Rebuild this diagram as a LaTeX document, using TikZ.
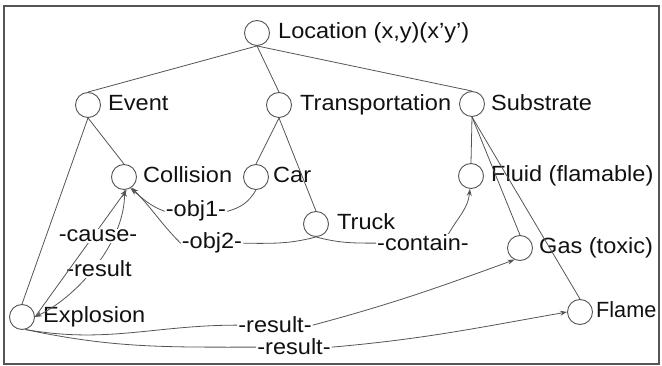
\documentclass[tikz,border=0pt]{standalone}
\usepackage{fontspec}
\setmainfont{Liberation Sans}[FakeStretch=1.07]
\usetikzlibrary{arrows.meta}
\definecolor{ln}{HTML}{555555}
\definecolor{tx}{HTML}{111111}
\begin{document}
\begin{tikzpicture}[x=1pt,y=1pt,
  dot/.style={circle,draw=ln,line width=0.9pt,minimum size=25pt,inner sep=0pt},
  lbl/.style={anchor=base west,inner sep=0pt,text=tx,font=\fontsize{22}{26}\selectfont},
  elbl/.style={anchor=base,inner sep=1pt,fill=white,text=tx,font=\fontsize{22}{26}\selectfont},
  tree/.style={draw=ln,line width=0.8pt},
  rel/.style={draw=ln,line width=0.8pt},
  tip/.style={-{Stealth[length=7pt,width=5pt]}},
  bitip/.style={{Stealth[length=7pt,width=5pt]}-{Stealth[length=7pt,width=5pt]}},
]
\useasboundingbox (0,0) rectangle (662,-366);
\draw[ln,line width=1.2pt] (4,-6) rectangle (659,-364);

% circles
\node[dot] (loc)   at (257,-33) {};
\node[dot] (event) at (88,-105) {};
\node[dot] (trans) at (279,-105) {};
\node[dot] (subs)  at (472,-104) {};
\node[dot] (coll)  at (124,-177) {};
\node[dot] (car)   at (256,-177) {};
\node[dot] (truck) at (316,-224) {};
\node[dot] (fluid) at (471,-176) {};
\node[dot] (gas)   at (520,-248) {};
\node[dot] (flame) at (580,-312) {};
\node[dot] (expl)  at (22,-317) {};

% texts
\node[lbl] (t-loc)   at (278,-39)  {Location (x,y)(x'y')};
\node[lbl] (t-event) at (108,-111) {Event};
\node[lbl] (t-trans) at (300,-111) {Transportation};
\node[lbl] (t-subs)  at (491,-111) {Substrate};
\node[lbl] (t-coll)  at (143,-183) {Collision};
\node[lbl] (t-car)   at (273,-183) {Car};
\node[lbl] (t-truck) at (337,-230) {Truck};
\node[lbl] (t-fluid) at (491,-182) {Fluid (flamable)};
\node[lbl] (t-gas)   at (539,-254) {Gas (toxic)};
\node[lbl,xscale=0.92] (t-flame) at (596,-318) {Flame};
\node[lbl] (t-expl)  at (43,-323)  {Explosion};

% tree edges
\draw[tree] (loc.south) -- (event.north);
\draw[tree] (loc.south) -- (trans.north);
\draw[tree] (loc.south) -- (subs.north);
\draw[tree] (event.south) -- (coll.north);
\draw[tree] (event.south) -- (expl.north);
\draw[tree] (trans.south) -- (car.north);
\draw[tree] (trans.south) -- (truck.north);
\draw[tree] (subs.south) -- (fluid.north);
\draw[tree] (subs.south) -- (gas.north);
\draw[tree] (subs.south) -- (flame.north);

% -result (explosion <-> collision)
\draw[rel,bitip] (expl.east) .. controls (80,-295) and (125,-240) .. (coll.-88);
\node[elbl] (l-res) at (99,-277) {-result};
% -cause-
\draw[rel,tip] (expl.east) -- (coll.-78);
\node[elbl] (l-cause) at (98,-242) {-cause-};

% obj1
\node[elbl] (l-obj1) at (196,-217) {-obj1-};
\draw[rel] (car.south) to[out=-120,in=15] (l-obj1.east);
\draw[rel,tip] (l-obj1.west) to[out=160,in=-40] (coll.-60);

% obj2
\node[elbl] (l-obj2) at (212,-249) {-obj2-};
\draw[rel] (truck.south) to[out=-165,in=0] (l-obj2.east);
\draw[rel,tip] (l-obj2.west) to[out=135,in=-45] (coll.-55);

% contain
\node[elbl] (l-cont) at (423,-251) {-contain-};
\draw[rel] (truck.south) to[out=-15,in=180] (l-cont.west);
\draw[rel,tip] (l-cont.20) to[out=60,in=-95] (fluid.-95);

% result to gas
\node[elbl] (l-rgas) at (275,-333) {-result-};
\draw[rel] (expl.-75) to[out=-10,in=180] (l-rgas.west);
\draw[rel,tip] (l-rgas.east) to[out=15,in=200] (gas.-115);

% result to flame
\node[elbl] (l-rfl) at (294,-355) {-result-};
\draw[rel] (expl.-75) to[out=-12,in=180] (l-rfl.west);
\draw[rel,tip] (l-rfl.east) to[out=5,in=190] (flame.west);
\end{tikzpicture}
\end{document}
